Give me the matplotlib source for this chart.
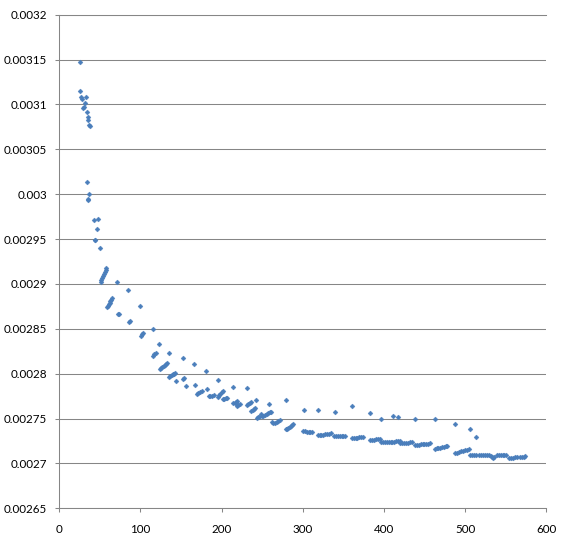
import matplotlib
matplotlib.use("Agg")
import matplotlib.pyplot as plt
from matplotlib.ticker import MultipleLocator, FuncFormatter

# steep head of the series (x < 100)
head_x = [25, 25.6, 26.5, 27.7, 29.3, 30.6, 31.4, 32.7, 33.9, 35.1, 36.0, 36.7, 38.0,
          33.9, 37.2, 35.0, 35.8, 42.9, 47.1, 45.9, 43.8, 44.6, 49.9,
          51, 52, 53, 54, 55, 56, 57, 58,
          59, 60, 61, 62, 63, 64, 65,
          71.3, 84.8, 99.6, 72, 73, 86, 87.5]
head_y = [0.0031476, 0.0031153, 0.0031080, 0.0031061, 0.0030964, 0.0030975, 0.0031013,
          0.0031086, 0.0030919, 0.0030857, 0.0030827, 0.0030771, 0.0030760,
          0.0030132, 0.0030002, 0.0029930, 0.0029945, 0.0029709, 0.0029720, 0.0029609,
          0.0029489, 0.0029492, 0.0029397,
          0.0029025, 0.0029045, 0.0029068, 0.0029090, 0.0029110, 0.0029130, 0.0029152, 0.0029174,
          0.0028745, 0.0028758, 0.0028775, 0.0028790, 0.0028805, 0.0028822, 0.0028838,
          0.0029021, 0.0028932, 0.0028757, 0.0028667, 0.0028663, 0.0028580, 0.0028585]

# knee of the curve (100 - 300)
mid_x = [115.3, 100.5, 102, 103.3, 122.7, 115.7, 117.2, 118.6, 135, 151.9,
         124, 125.5, 127, 128.5, 130, 131.2, 132.2, 165.5,
         135.4, 137, 138.5, 140, 141.5, 143, 143.6, 180.6, 152.7, 153.9,
         155.6, 167.4, 169.2, 171.2, 173.3, 175.3, 182.2, 195.4,
         184, 186.2, 188.4, 190.5, 195.8, 197.2, 198.6, 200, 201.2,
         201.8, 203.5, 205, 206.2, 213.6, 214.3, 216, 217.6, 219.2,
         218.5, 220.2, 222.6, 231.6, 242.3, 231.6, 233, 234.4, 235.8,
         236.5, 238.2, 239.7, 241.1, 258.7, 279.3,
         243.2, 245, 246.6, 248.1, 249.5, 251.5, 253.5, 255.5, 257.5, 259, 260.4,
         261.7, 263.7, 265.7, 267.7, 269.8, 271.9, 301.5,
         279.3, 280.8, 282.3, 283.8, 285.3, 286.8, 288.3,
         300.6, 302.8, 305, 307.2, 309.5, 311.7]
mid_y = [0.0028494, 0.0028423, 0.0028440, 0.0028456, 0.0028334, 0.0028200, 0.0028218,
         0.0028234, 0.0028230, 0.0028178,
         0.0028049, 0.0028062, 0.0028075, 0.0028088, 0.0028101, 0.0028112, 0.0028122, 0.0028104,
         0.0027966, 0.0027975, 0.0027984, 0.0027992, 0.0028001, 0.0028009, 0.0027922,
         0.0028030, 0.0027937, 0.0027948,
         0.0027866, 0.0027877, 0.0027777, 0.0027786, 0.0027795, 0.0027803, 0.0027833, 0.0027933,
         0.0027748, 0.0027752, 0.0027756, 0.0027759, 0.0027743, 0.0027760, 0.0027776,
         0.0027792, 0.0027807,
         0.0027718, 0.0027722, 0.0027726, 0.0027729, 0.0027851, 0.0027670, 0.0027678,
         0.0027687, 0.0027695,
         0.0027641, 0.0027648, 0.0027659, 0.0027840, 0.0027705, 0.0027651, 0.0027663,
         0.0027675, 0.0027687,
         0.0027588, 0.0027597, 0.0027605, 0.0027614, 0.0027659, 0.0027710,
         0.0027509, 0.0027512, 0.0027520, 0.0027547, 0.0027525, 0.0027532, 0.0027540,
         0.0027550, 0.0027560, 0.0027568, 0.0027576,
         0.0027465, 0.0027447, 0.0027452, 0.0027462, 0.0027473, 0.0027484, 0.0027595,
         0.0027380, 0.0027385, 0.0027395, 0.0027405, 0.0027418, 0.0027428, 0.0027439,
         0.0027358, 0.0027357, 0.0027355, 0.0027354, 0.0027354, 0.0027353]

# flat tail (x > 300)
tail_x = [318.4, 320.7, 323, 325.3, 327.6, 329.9, 332.2, 334.4,
          338.8, 341, 343.3, 345.6, 347.9, 350.1, 352.4,
          360.3, 362.7, 365, 367.4, 369.8, 372.2, 374.6,
          382.9, 385.4, 387.9, 390.3, 392.8, 395.2,
          396.1, 398.5, 400.9, 403.3, 405.7, 408.1, 410.5, 412.9, 415.3, 417.6, 419.9,
          420.2, 422.6, 425, 427.4, 429.8, 432, 434.3,
          438, 440.4, 442.8, 445.1, 447.5, 449.9, 452.2, 454.5, 456.8,
          462.6, 464.8, 467, 469.2, 471.5, 473.7, 476, 478.2,
          488, 490.4, 492.8, 495.1, 497.5, 499.9, 502.3, 504.6,
          506.5, 509, 511.5, 514, 516.5, 519, 521.5, 524, 526.5, 529, 531.5, 532.5,
          534.2, 536, 539, 541.5, 544, 546.5, 548.5, 550.6,
          554.6, 557, 559.5, 562, 564.5, 567, 569.5, 572, 574]
tail_y = [0.0027313, 0.0027315, 0.0027318, 0.0027321, 0.0027324, 0.0027327, 0.0027331, 0.0027335,
          0.0027308, 0.0027307, 0.0027306, 0.0027304, 0.0027303, 0.0027302, 0.0027300,
          0.0027278, 0.0027280, 0.0027283, 0.0027286, 0.0027289, 0.0027292, 0.0027296,
          0.0027261, 0.0027263, 0.0027266, 0.0027268, 0.0027271, 0.0027274,
          0.0027242, 0.0027242, 0.0027243, 0.0027243, 0.0027243, 0.0027244, 0.0027244,
          0.0027244, 0.0027245, 0.0027245, 0.0027245,
          0.0027230, 0.0027231, 0.0027231, 0.0027232, 0.0027233, 0.0027234, 0.0027235,
          0.0027205, 0.0027207, 0.0027209, 0.0027211, 0.0027213, 0.0027215, 0.0027218,
          0.0027221, 0.0027224,
          0.0027164, 0.0027168, 0.0027172, 0.0027176, 0.0027180, 0.0027185, 0.0027189, 0.0027194,
          0.0027113, 0.0027120, 0.0027127, 0.0027133, 0.0027140, 0.0027147, 0.0027154, 0.0027161,
          0.0027090, 0.0027090, 0.0027091, 0.0027091, 0.0027092, 0.0027092, 0.0027092,
          0.0027093, 0.0027093, 0.0027093, 0.0027085, 0.0027068,
          0.0027057, 0.0027070, 0.0027094, 0.0027094, 0.0027095, 0.0027095, 0.0027096, 0.0027097,
          0.0027064, 0.0027064, 0.0027065, 0.0027066, 0.0027067, 0.0027069, 0.0027072,
          0.0027077, 0.0027083]

# isolated points sitting above the tail
stray_x = [318.4, 339.3, 360.3, 382.9, 396.1, 411.6, 417, 438, 462.6, 488, 506.5, 513.9]
stray_y = [0.0027595, 0.0027573, 0.0027640, 0.0027558, 0.0027491, 0.0027532, 0.0027514,
           0.0027491, 0.0027491, 0.0027442, 0.0027387, 0.0027293]

xs = head_x + mid_x + tail_x + stray_x
ys = head_y + mid_y + tail_y + stray_y

GRID = '#868686'
BLUE = '#4A7EBB'

plt.rcParams['font.family'] = ['Lato', 'DejaVu Sans']

fig = plt.figure(figsize=(5.64, 5.42), dpi=100)
ax = fig.add_axes([0.1051, 0.0622, 0.8635, 0.9107])

ax.plot(xs, ys, linestyle='none', marker='D', markersize=2.5,
        color=BLUE, markeredgewidth=0.3, clip_on=False, zorder=3)

ax.set_xlim(0, 600)
ax.set_ylim(0.00265, 0.0032)
ax.xaxis.set_major_locator(MultipleLocator(100))
ax.yaxis.set_major_locator(MultipleLocator(0.00005))
ax.yaxis.set_major_formatter(FuncFormatter(lambda v, p: '%g' % round(v, 6)))

ax.grid(axis='y', color=GRID, linewidth=0.75)
ax.set_axisbelow(True)
ax.spines['right'].set_visible(False)
for side in ['left', 'bottom', 'top']:
    ax.spines[side].set_color(GRID)
    ax.spines[side].set_linewidth(0.75)

ax.tick_params(axis='both', colors=GRID, labelcolor='black', labelsize=8.4,
               length=3.1, width=0.75, direction='out')
ax.tick_params(axis='y', pad=5.5)
ax.tick_params(axis='x', pad=8.5)
ax.tick_params(top=False, right=False)

fig.savefig('out.png', dpi=100)
